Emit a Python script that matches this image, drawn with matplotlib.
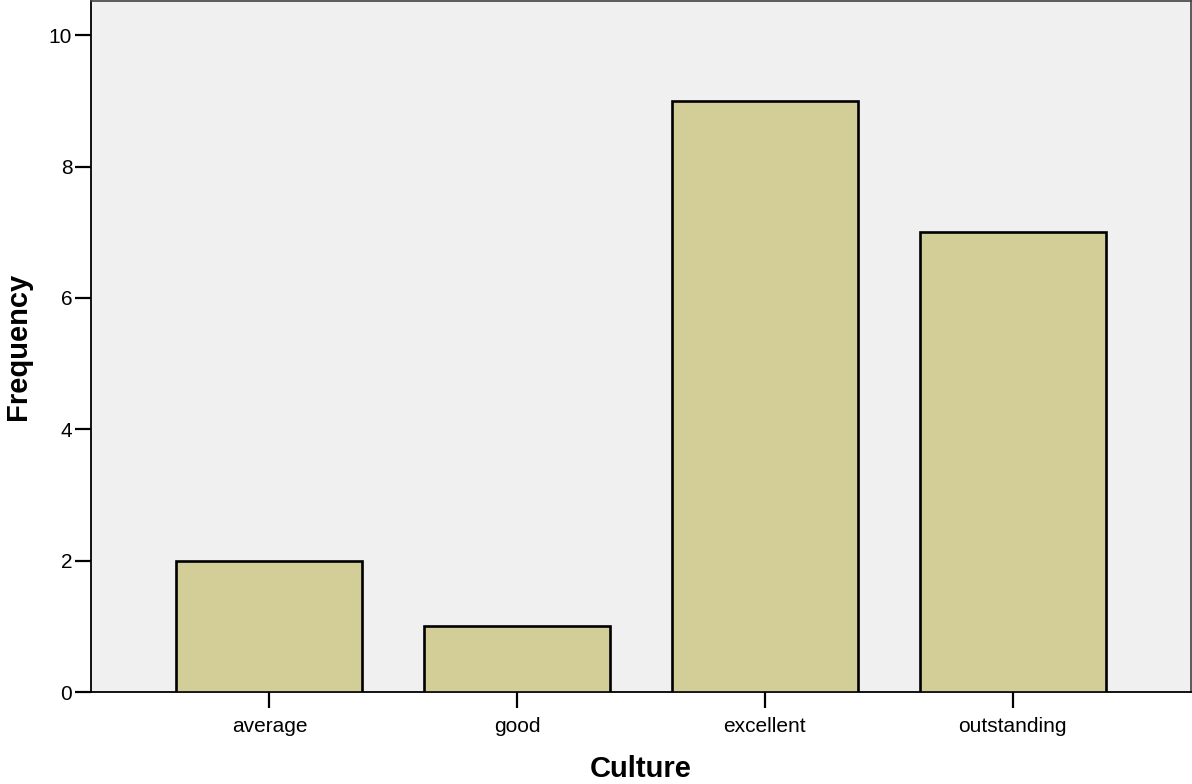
import matplotlib
matplotlib.use("Agg")
import matplotlib.pyplot as plt

categories = ["average", "good", "excellent", "outstanding"]
frequency = [2, 1, 9, 7]
y_ticks = [0, 2, 4, 6, 8, 10]

plt.rcParams['font.family'] = ['Liberation Sans', 'DejaVu Sans']

fig = plt.figure(figsize=(11.92, 7.84), dpi=100)
ax = fig.add_axes([91 / 1192, 92 / 784, 1100 / 1192, 691 / 784])
ax.set_facecolor("#f0f0f0")

x = range(len(categories))
ax.bar(x, frequency, width=0.75, color="#d3ce97", edgecolor="black", linewidth=1.9, zorder=3)

ax.set_xlim(-0.72, 3.72)
ax.set_ylim(0, 10.52)
ax.set_xticks(list(x))
ax.set_xticklabels(categories)
ax.set_yticks(y_ticks)

ax.tick_params(axis="both", labelsize=15, length=11.5, width=1.6, direction="out", color="black")
ax.tick_params(axis="x", pad=6.5)
ax.tick_params(axis="y", pad=2)

for side in ["left", "bottom"]:
    ax.spines[side].set_linewidth(1.3)
    ax.spines[side].set_color("black")
for side in ["top", "right"]:
    ax.spines[side].set_linewidth(1.2)
    ax.spines[side].set_color("#404040")

ax.set_xlabel("Culture", fontsize=21, fontweight="bold", labelpad=14)
ax.set_ylabel("Frequency", fontsize=21, fontweight="bold", labelpad=12)

fig.savefig("out.png", dpi=100)
